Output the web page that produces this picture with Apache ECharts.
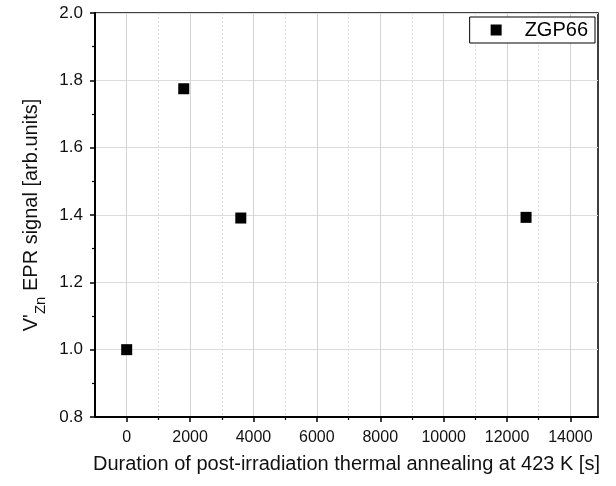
<!DOCTYPE html>
<html>
<head>
<meta charset="utf-8">
<script src="https://cdn.jsdelivr.net/npm/echarts@6/dist/echarts.min.js"></script>
<style>
html,body{margin:0;padding:0;background:#fff;}
#c{width:616px;height:486px;}
</style>
</head>
<body>
<div id="c"></div>
<script>
const seriesName = 'ZGP66';
const durations = [0, 1800, 3600, 12600];
const signals = [1.0, 1.775, 1.391, 1.393];
const xMajorTicks = [0, 2000, 4000, 6000, 8000, 10000, 12000, 14000];
const xMinorTicks = [1000, 3000, 5000, 7000, 9000, 11000, 13000];
const xRange = [-1000, 14870];
const yRange = [0.8, 2.0];
const yStep = 0.2;
const xTitle = 'Duration of post-irradiation thermal annealing at 423 K [s]';

const chart = echarts.init(document.getElementById('c'), null, {renderer: 'canvas'});
const font = 'Liberation Sans, Arial, sans-serif';
const option = {
  animation: false,
  backgroundColor: '#fff',
  textStyle: {fontFamily: font},
  grid: {left: 95, right: 18, top: 13, bottom: 69, show: true, borderColor: '#000', borderWidth: 1.5, backgroundColor: 'transparent'},
  legend: {
    show: true,
    right: 21, top: 17,
    orient: 'horizontal',
    borderColor: '#000', borderWidth: 1,
    backgroundColor: '#fff',
    padding: [3, 7, 3, 21],
    itemWidth: 11, itemHeight: 11,
    icon: 'rect',
    textStyle: {fontSize: 20, color: '#000', fontFamily: font, padding: [0, 0, 0, 18]},
    data: [seriesName]
  },
  xAxis: [{
    type: 'value',
    min: xRange[0], max: xRange[1],
    position: 'bottom',
    name: xTitle,
    nameLocation: 'middle',
    nameGap: 37,
    nameTextStyle: {fontSize: 20, color: '#111', fontFamily: font},
    axisLine: {show: true, onZero: false, lineStyle: {color: '#000', width: 2}},
    axisTick: {show: true, customValues: xMajorTicks, length: 5, lineStyle: {color: '#000', width: 1.5}},
    axisLabel: {show: true, customValues: xMajorTicks, fontSize: 16, color: '#111', margin: 13, fontFamily: font, formatter: v => String(v)},
    splitLine: {show: true, lineStyle: {color: '#d4d4d4', width: 1, type: 'solid'}}
  }, {
    type: 'value',
    min: xRange[0], max: xRange[1],
    position: 'bottom',
    offset: 0,
    axisLine: {show: false},
    axisTick: {show: true, customValues: xMinorTicks, length: 3, lineStyle: {color: '#000', width: 1.2}},
    axisLabel: {show: false},
    splitLine: {show: true, lineStyle: {color: '#e0e0e0', width: 1, type: [2, 2]}}
  }],
  yAxis: {
    type: 'value',
    min: yRange[0], max: yRange[1], interval: yStep,
    name: '{n|V\'}{s|Zn}{n| EPR signal [arb.units]}',
    nameLocation: 'middle',
    nameGap: 47,
    nameRotate: 90,
    nameTextStyle: {
      fontFamily: font, color: '#111',
      rich: {
        n: {fontSize: 20, color: '#111', fontFamily: font, lineHeight: 27, verticalAlign: 'top'},
        s: {fontSize: 15, color: '#111', fontFamily: font, lineHeight: 27, verticalAlign: 'bottom'}
      }
    },
    axisLine: {show: true, onZero: false, lineStyle: {color: '#000', width: 2}},
    axisTick: {show: true, length: 5, lineStyle: {color: '#000', width: 1.5}},
    minorTick: {show: true, splitNumber: 2, length: 3, lineStyle: {color: '#000', width: 1.2}},
    axisLabel: {fontSize: 17, color: '#111', margin: 12, fontFamily: font, formatter: v => v.toFixed(1)},
    splitLine: {show: true, lineStyle: {color: '#dcdcdc', width: 1}}
  },
  series: [{
    name: seriesName,
    type: 'scatter',
    xAxisIndex: 0,
    symbol: 'rect',
    symbolSize: 11,
    itemStyle: {color: '#000', opacity: 1},
    data: durations.map((d, i) => [d, signals[i]])
  }]
};
chart.setOption(option);
</script>
</body>
</html>
